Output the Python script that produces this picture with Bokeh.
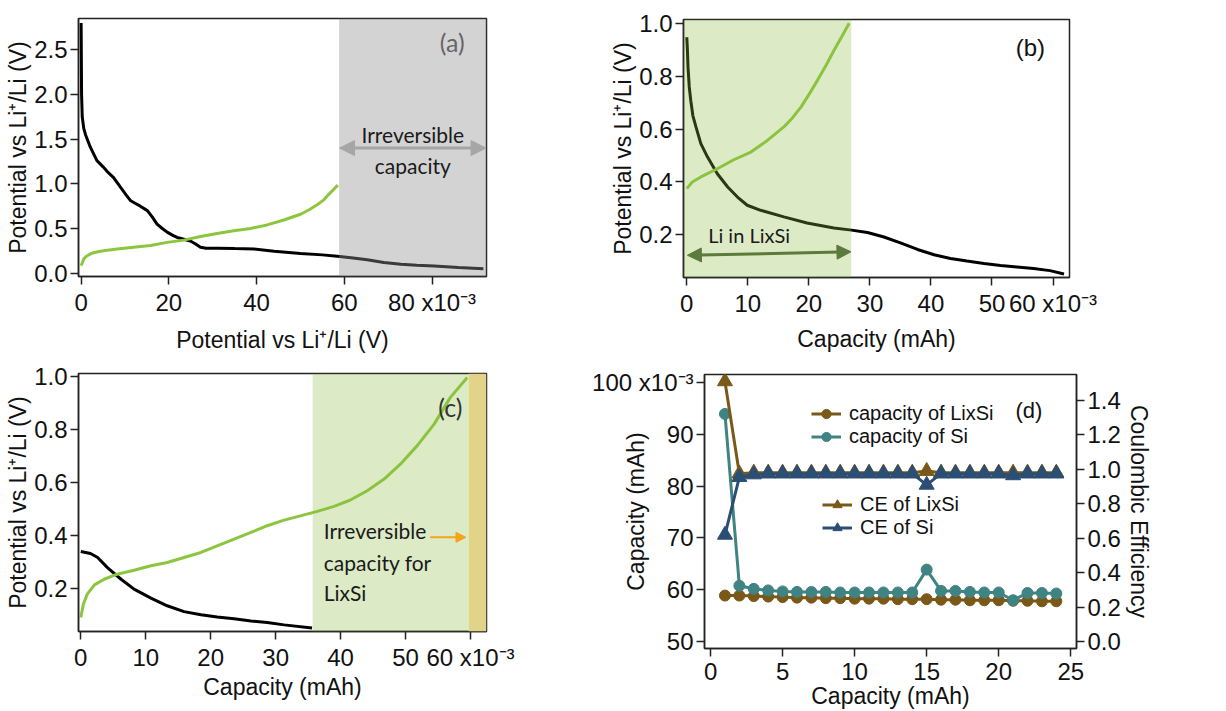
from bokeh.plotting import figure
from bokeh.models import (Range1d, LinearAxis, FixedTicker, NumeralTickFormatter,
                          BoxAnnotation, Label, Arrow, NormalHead, Legend, LegendItem)
from bokeh.layouts import column, row
from bokeh.embed import file_html
from bokeh.resources import INLINE

# ---------------- data (capacity in 1e-3 mAh, potential in V) ----------------
a_dis_x = [0, 0.05, 0.1, 0.25, 0.6, 1.0, 2.1, 3.6, 5.0, 5.9, 7.4, 9.0, 10.2, 11.3, 12.4, 13.5,
           15.1, 16.2, 17.3, 18.5, 19.6, 21.0, 21.9, 23.4, 24.9, 26.0, 27.2, 28.5, 31.0, 35.0,
           39.4, 44.0, 50.0, 55.0, 58.4, 62.0, 65.2, 69.0, 72.9, 76.5, 80.5, 86.0, 91.7]
a_dis_y = [2.80, 2.40, 2.00, 1.75, 1.62, 1.55, 1.41, 1.26, 1.19, 1.14, 1.07, 0.96, 0.88, 0.81,
           0.78, 0.75, 0.70, 0.63, 0.55, 0.50, 0.46, 0.42, 0.40, 0.38, 0.36, 0.33, 0.29, 0.28,
           0.28, 0.275, 0.27, 0.245, 0.22, 0.205, 0.19, 0.17, 0.15, 0.12, 0.10, 0.09, 0.08,
           0.065, 0.05]
a_chg_x = [0, 0.3, 0.6, 1.2, 2.1, 3.0, 4.4, 6.0, 8.2, 12.0, 15.8, 19.6, 23.4, 27.2, 31.0, 34.8,
           38.6, 42.4, 46.2, 50.0, 52.0, 53.8, 55.3, 56.5, 57.6, 58.5]
a_chg_y = [0.085, 0.12, 0.16, 0.19, 0.215, 0.232, 0.245, 0.258, 0.27, 0.29, 0.31, 0.345, 0.37,
           0.41, 0.445, 0.475, 0.50, 0.54, 0.595, 0.66, 0.71, 0.765, 0.82, 0.885, 0.94, 0.985]

b_dis_x = [0, 0.1, 0.2, 0.4, 0.65, 1.0, 1.5, 2.3, 3.4, 5.0, 6.7, 8.3, 9.9, 12.1, 15.9, 19.7,
           24.1, 27.0, 29.6, 32.3, 35.0, 37.8, 40.5, 43.2, 45.9, 48.7, 51.4, 54.1, 56.8, 59.5, 61.8]
b_dis_y = [0.947, 0.90, 0.834, 0.76, 0.708, 0.65, 0.608, 0.545, 0.494, 0.431, 0.381, 0.343,
           0.312, 0.293, 0.268, 0.245, 0.226, 0.218, 0.209, 0.192, 0.170, 0.145, 0.125, 0.111,
           0.101, 0.092, 0.084, 0.079, 0.073, 0.065, 0.052]
b_chg_x = [0, 0.9, 2.3, 5.0, 7.7, 10.5, 13.2, 15.9, 17.3, 18.7, 20.0, 21.4, 22.8, 24.1, 25.4, 26.6]
b_chg_y = [0.375, 0.40, 0.419, 0.450, 0.484, 0.513, 0.557, 0.608, 0.642, 0.683, 0.73, 0.784,
           0.84, 0.897, 0.95, 1.0]

c_dis_x = [0, 1.5, 2.6, 4.1, 6.2, 8.2, 10.8, 13.3, 15.9, 18.5, 21.0, 23.6, 26.2, 28.7, 31.3, 35.6]
c_dis_y = [0.341, 0.333, 0.318, 0.280, 0.236, 0.199, 0.165, 0.136, 0.114, 0.102, 0.094, 0.087,
           0.079, 0.073, 0.064, 0.052]
c_chg_x = [0, 0.4, 1.0, 2.1, 3.6, 5.6, 8.2, 10.8, 13.3, 15.9, 18.5, 21.0, 23.6, 26.2, 28.7,
           31.3, 33.8, 36.4, 39.0, 41.5, 44.1, 46.7, 49.2, 51.8, 54.4, 56.9, 59.5]
c_chg_y = [0.092, 0.142, 0.18, 0.215, 0.236, 0.255, 0.270, 0.287, 0.299, 0.318, 0.337, 0.362,
           0.387, 0.413, 0.438, 0.459, 0.475, 0.492, 0.511, 0.535, 0.570, 0.614, 0.670, 0.740,
           0.821, 0.922, 0.997]

cycles = list(range(1, 25))
cap_lixsi = [58.9, 58.9, 58.8, 58.7, 58.6, 58.5, 58.5, 58.4, 58.4, 58.3, 58.3, 58.3, 58.2, 58.2,
             58.2, 58.1, 58.1, 58.0, 58.0, 58.0, 57.9, 57.9, 57.8, 57.8]
cap_si = [93.9, 60.8, 60.2, 59.9, 59.7, 59.6, 59.6, 59.6, 59.5, 59.5, 59.5, 59.5, 59.5, 59.5,
          63.9, 59.8, 59.8, 59.6, 59.5, 59.5, 58.0, 59.4, 59.4, 59.3]
ce_lixsi = [1.51, 0.975, 0.98, 0.98, 0.98, 0.98, 0.98, 0.98, 0.98, 0.98, 0.98, 0.98, 0.98, 0.98,
            0.99, 0.98, 0.98, 0.98, 0.98, 0.98, 0.98, 0.98, 0.98, 0.98]
ce_si = [0.62, 0.955, 0.97, 0.975, 0.975, 0.975, 0.975, 0.975, 0.975, 0.975, 0.975, 0.975, 0.975,
         0.975, 0.91, 0.975, 0.975, 0.975, 0.975, 0.975, 0.965, 0.975, 0.975, 0.975]

# ---------------- style ----------------
BLACK = "#000000"
GREEN = "#8cc63f"
TICK_FONT = "Liberation Sans"
ANN_FONT = "Lato"
TICK_SIZE = "24px"
LABEL_SIZE = "23px"
YLABEL = "Potential vs Li\u207a/Li (V)"
SUP = " x10\u207b\u00b3"


def make_fig(w, h, xr, yr, bl, br, bt, bb):
    p = figure(width=w, height=h, x_range=Range1d(*xr), y_range=Range1d(*yr),
               output_backend="svg", toolbar_location=None, title=None,
               min_border_left=bl, min_border_right=br, min_border_top=bt, min_border_bottom=bb)
    p.grid.visible = False
    p.outline_line_color = "#222222"
    p.outline_line_width = 1.5
    p.background_fill_color = "white"
    p.border_fill_color = "white"
    return p


def style_axis(ax, ticks, label, overrides=None, fmt=None, ls=3, als=0):
    ax.ticker = FixedTicker(ticks=ticks)
    ax.axis_label = label
    ax.axis_label_text_font = TICK_FONT
    ax.axis_label_text_font_size = LABEL_SIZE
    ax.axis_label_text_font_style = "normal"
    ax.axis_label_text_color = "#111111"
    ax.major_label_text_font = TICK_FONT
    ax.major_label_text_font_size = TICK_SIZE
    ax.major_label_text_color = "#111111"
    ax.major_tick_in = 0
    ax.major_tick_out = 8
    ax.major_tick_line_width = 1.5
    ax.major_tick_line_color = "#222222"
    ax.minor_tick_line_color = None
    ax.axis_line_color = "#222222"
    ax.axis_line_width = 1.5
    ax.major_label_standoff = ls
    ax.axis_label_standoff = als
    if fmt:
        ax.formatter = NumeralTickFormatter(format=fmt)
    if overrides:
        ax.major_label_overrides = overrides


# ---------------- (a) ----------------
fa = make_fig(600, 355, (-0.6, 92.4), (-0.037, 2.85), 78, 114, 18, 79)
fa.line(a_dis_x, a_dis_y, line_color=BLACK, line_width=3)
fa.add_layout(BoxAnnotation(left=58.8, fill_color="#919191", fill_alpha=0.4, line_alpha=0))
fa.line(a_chg_x, a_chg_y, line_color=GREEN, line_width=3)
style_axis(fa.xaxis[0], [0, 20, 40, 60, 80], YLABEL, {80: "80" + SUP}, ls=4, als=8)
style_axis(fa.yaxis[0], [0, 0.5, 1.0, 1.5, 2.0, 2.5], YLABEL, fmt="0.0")
fa.add_layout(Arrow(start=NormalHead(size=15, fill_color="#a6a6a6", line_color="#a6a6a6"),
                    end=NormalHead(size=15, fill_color="#a6a6a6", line_color="#a6a6a6"),
                    x_start=58.9, y_start=1.40, x_end=92.3, y_end=1.40,
                    line_color="#a6a6a6", line_width=3))
fa.add_layout(Label(x=75.6, y=1.556, text="Irreversible", text_font=ANN_FONT,
                    text_font_size="21px", text_color="#1a1a1a", text_align="center",
                    text_baseline="middle"))
fa.add_layout(Label(x=75.6, y=1.21, text="capacity", text_font=ANN_FONT,
                    text_font_size="21px", text_color="#1a1a1a", text_align="center",
                    text_baseline="middle"))
fa.add_layout(Label(x=84.6, y=2.59, text="(a)", text_font=ANN_FONT, text_font_size="25px",
                    text_color="#666666", text_align="center", text_baseline="middle"))

# ---------------- (b) ----------------
fb = make_fig(626, 355, (-0.54, 62.7), (0.039, 1.014), 83, 157, 19, 78)
fb.line(b_dis_x, b_dis_y, line_color=BLACK, line_width=3)
fb.add_layout(BoxAnnotation(right=26.95, fill_color="#8cbe3e", fill_alpha=0.3, line_alpha=0))
fb.line(b_chg_x, b_chg_y, line_color=GREEN, line_width=3)
style_axis(fb.xaxis[0], [0, 10, 20, 30, 40, 50, 60], "Capacity (mAh)", {60: "60" + SUP},
           ls=4, als=6)
style_axis(fb.yaxis[0], [0.2, 0.4, 0.6, 0.8, 1.0], YLABEL, fmt="0.0")
fb.add_layout(Arrow(start=NormalHead(size=14, fill_color="#5b7a3c", line_color="#5b7a3c"),
                    end=NormalHead(size=14, fill_color="#5b7a3c", line_color="#5b7a3c"),
                    x_start=0.1, y_start=0.123, x_end=26.9, y_end=0.136,
                    line_color="#5b7a3c", line_width=3))
fb.add_layout(Label(x=3.5, y=0.199, text="Li in LixSi", text_font=ANN_FONT,
                    text_font_size="20px", text_color="#1a1a1a", text_align="left",
                    text_baseline="middle"))
fb.add_layout(Label(x=56.3, y=0.909, text="(b)", text_font=TICK_FONT, text_font_size="24px",
                    text_color="#111111", text_align="center", text_baseline="middle"))

# ---------------- (c) ----------------
fc = make_fig(590, 356, (-0.35, 62.46), (0.039, 1.012), 78, 104, 18, 80)
fc.line(c_dis_x, c_dis_y, line_color=BLACK, line_width=3)
fc.add_layout(BoxAnnotation(left=35.7, right=59.7, fill_color="#8cbe3e", fill_alpha=0.3,
                            line_alpha=0))
fc.add_layout(BoxAnnotation(left=59.7, fill_color="#e1d387", fill_alpha=1.0, line_alpha=0))
fc.line(c_chg_x, c_chg_y, line_color=GREEN, line_width=3)
style_axis(fc.xaxis[0], [0, 10, 20, 30, 40, 50, 60], "Capacity (mAh)", {60: "60" + SUP},
           ls=4, als=0)
style_axis(fc.yaxis[0], [0.2, 0.4, 0.6, 0.8, 1.0], YLABEL, fmt="0.0")
for txt, yy in [("Irreversible", 0.419), ("capacity for", 0.30), ("LixSi", 0.187)]:
    fc.add_layout(Label(x=37.4, y=yy, text=txt, text_font=ANN_FONT, text_font_size="21px",
                        text_color="#1a1a1a", text_align="left", text_baseline="middle"))
fc.add_layout(Arrow(end=NormalHead(size=10, fill_color="#f5a31a", line_color="#f5a31a"),
                    x_start=53.8, y_start=0.394, x_end=59.3, y_end=0.394,
                    line_color="#f5a31a", line_width=2))
fc.add_layout(Label(x=56.9, y=0.884, text="(c)", text_font=ANN_FONT, text_font_size="25px",
                    text_color="#333333", text_align="center", text_baseline="middle"))

# ---------------- (d) ----------------
BROWN = "#7a5818"
TEAL = "#408383"
NAVY = "#2a4e74"
fd = make_fig(636, 356, (-0.42, 25.4), (48.7, 101.5), 114, 150, 19, 62)
fd.extra_y_ranges = {"ce": Range1d(-0.039, 1.55)}
r1l = fd.line(cycles, cap_lixsi, line_color=BROWN, line_width=3)
r1s = fd.scatter(cycles, cap_lixsi, marker="circle", size=11, fill_color=BROWN, line_color=BROWN)
r2l = fd.line(cycles, cap_si, line_color=TEAL, line_width=3)
r2s = fd.scatter(cycles, cap_si, marker="circle", size=11, fill_color=TEAL, line_color=TEAL)
r3l = fd.line(cycles, ce_lixsi, line_color=BROWN, line_width=3, y_range_name="ce")
r3s = fd.scatter(cycles, ce_lixsi, marker="triangle", size=15, fill_color=BROWN,
                 line_color=BROWN, y_range_name="ce")
r4l = fd.line(cycles, ce_si, line_color=NAVY, line_width=3, y_range_name="ce")
r4s = fd.scatter(cycles, ce_si, marker="triangle", size=15, fill_color=NAVY,
                 line_color=NAVY, y_range_name="ce")
style_axis(fd.xaxis[0], [0, 5, 10, 15, 20, 25], "Capacity (mAh)", ls=6, als=0)
style_axis(fd.yaxis[0], [50, 60, 70, 80, 90, 100], "Capacity (mAh)", {100: "100" + SUP},
           als=-60)
rax = LinearAxis(y_range_name="ce")
style_axis(rax, [0, 0.2, 0.4, 0.6, 0.8, 1.0, 1.2, 1.4], "Coulombic Efficiency", fmt="0.0",
           als=2)
fd.add_layout(rax, "right")


def make_legend(items, loc):
    lg = Legend(items=items, location=loc, label_text_font=TICK_FONT,
                label_text_font_size="20px", label_text_color="#111111",
                glyph_width=30, glyph_height=23, label_height=23, label_standoff=8,
                spacing=0, padding=0, margin=0, background_fill_alpha=0,
                border_line_alpha=0)
    return lg


fd.add_layout(make_legend([LegendItem(label="capacity of LixSi", renderers=[r1l, r1s]),
                           LegendItem(label="capacity of Si", renderers=[r2l, r2s])],
                          (107, 200)))
fd.add_layout(make_legend([LegendItem(label="CE of LixSi", renderers=[r3l, r3s]),
                           LegendItem(label="CE of Si", renderers=[r4l, r4s])],
                          (118, 109)))
fd.add_layout(Label(x=22.1, y=94.6, text="(d)", text_font=TICK_FONT, text_font_size="22px",
                    text_color="#111111", text_align="center", text_baseline="middle"))

layout = column(row(column(fa), column(fb)), row(column(fc), column(fd)))
open("out.html", "w").write(file_html(layout, INLINE))
